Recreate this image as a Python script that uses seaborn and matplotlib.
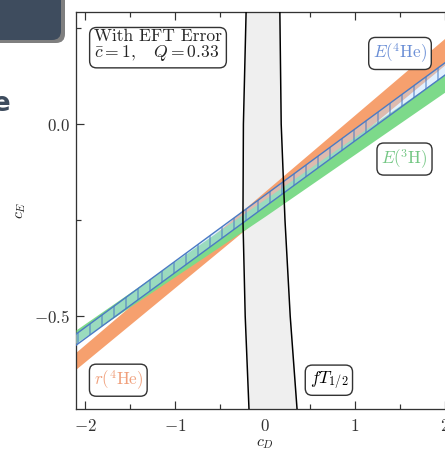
import numpy as np
import matplotlib
matplotlib.use("Agg")
import matplotlib.pyplot as plt
from matplotlib.patches import FancyBboxPatch
from matplotlib.ticker import MultipleLocator
import seaborn as sns

# band edges (c_E) read at c_D = -2.1, 0, 2.1
cd_grid = [-2.1, 0.0, 2.1]
r4he_lo = [-0.638, -0.232, 0.174]
r4he_hi = [-0.594, -0.175, 0.244]
e3h_lo = [-0.570, -0.240, 0.100]
e3h_hi = [-0.536, -0.195, 0.146]
e4he_lo = [-0.576, -0.215, 0.145]
e4he_hi = [-0.547, -0.185, 0.177]

# fT_1/2 band: c_D of left/right edge at given c_E
ft_ce = [0.292, 0.0, -0.25, -0.5, -0.742]
ft_left = [-0.21, -0.24, -0.245, -0.22, -0.178]
ft_right = [0.165, 0.18, 0.222, 0.28, 0.356]

sns.set_style("ticks")
plt.rcParams["font.family"] = "serif"
plt.rcParams["font.serif"] = ["cmr10", "DejaVu Serif"]
plt.rcParams["mathtext.fontset"] = "cm"
plt.rcParams["axes.formatter.use_mathtext"] = True
plt.rcParams["hatch.linewidth"] = 1.0
plt.rcParams["hatch.color"] = "#4b7bc4"

DPI = 72
fig = plt.figure(figsize=(445 / DPI, 451 / DPI), dpi=DPI)
ax = fig.add_axes([76 / 445, 1 - 409 / 451, 378 / 445, 397 / 451])

orange = "#f6a06e"
green = "#7dda8a"
blue = "#4b7bc4"

# fT band
ax.fill_betweenx(ft_ce, ft_left, ft_right, color="#efefef", lw=0, zorder=1)

ax.fill_between(cd_grid, r4he_lo, r4he_hi, color=orange, lw=0, zorder=2)
ax.fill_between(cd_grid, e3h_lo, e3h_hi, color=green, lw=0, zorder=3)
ax.fill_between(cd_grid, e4he_lo, e4he_hi, facecolor=(0.75, 0.87, 1.0, 0.45),
                edgecolor=blue, hatch="|", lw=0, zorder=4)
sns.lineplot(x=cd_grid, y=e4he_lo, color=blue, lw=1.4, ax=ax, zorder=5)
sns.lineplot(x=cd_grid, y=e4he_hi, color=blue, lw=1.4, ax=ax, zorder=5)

sns.lineplot(x=ft_left, y=ft_ce, orient="y", color="black", lw=1.5, ax=ax, zorder=6)
sns.lineplot(x=ft_right, y=ft_ce, orient="y", color="black", lw=1.5, ax=ax, zorder=6)

ax.set_xlim(-2.1, 2.1)
ax.set_ylim(-0.742, 0.292)
ax.xaxis.set_major_locator(MultipleLocator(1))
ax.xaxis.set_minor_locator(MultipleLocator(0.5))
ax.yaxis.set_major_locator(MultipleLocator(0.5))
ax.yaxis.set_minor_locator(MultipleLocator(0.25))
ax.tick_params(which="both", direction="in", top=True, right=True,
               width=1.2, labelsize=17, colors="#333333")
ax.tick_params(axis="x", pad=9)
ax.tick_params(axis="y", pad=6)
ax.tick_params(which="major", length=8)
ax.tick_params(which="minor", length=5)
for s in ax.spines.values():
    s.set_linewidth(1.3)
    s.set_color("#333333")

ax.set_xlabel("$c_D$", fontsize=16, labelpad=3)
ax.set_ylabel("$c_E$", fontsize=16, labelpad=6)

box = dict(boxstyle="round,pad=0.25,rounding_size=0.4", fc="white", ec="#333333", lw=1.4)
ax.text(-1.9, 0.203, "With EFT Error\n$\\bar{c}=1, \\quad Q=0.33$", fontsize=17.5,
        va="center", ha="left", linespacing=0.95, bbox=box, zorder=10)
ax.text(1.5, 0.184, "$E(^4\\mathrm{He})$", fontsize=17, color="#6b8fd6",
        ha="center", va="center", bbox=box, zorder=10)
ax.text(1.55, -0.091, "$E(^3\\mathrm{H})$", fontsize=17, color="#74c784",
        ha="center", va="center", bbox=box, zorder=10)
ax.text(-1.63, -0.667, "$r(^4\\mathrm{He})$", fontsize=17, color="#f0a07c",
        ha="center", va="center", bbox=box, zorder=10)
ax.text(0.71, -0.667, "$fT_{1/2}$", fontsize=17.5, color="black",
        ha="center", va="center", bbox=box, zorder=10)

# slide fragments around the crop
fig.patches.append(FancyBboxPatch((-0.1, 1 - 43 / 451), 0.1 + 65 / 445, 0.2,
                                  boxstyle="round,pad=0,rounding_size=0.02",
                                  transform=fig.transFigure, fc="black", ec="none", alpha=0.5))
fig.patches.append(FancyBboxPatch((-0.1, 1 - 40 / 451), 0.1 + 61 / 445, 0.2,
                                  boxstyle="round,pad=0,rounding_size=0.02",
                                  transform=fig.transFigure, fc="#3e4c5e", ec="none"))
fig.text(-7 / 445, 1 - 104 / 451, "e", fontsize=26, weight="bold", color="#3e4c5e",
         family="DejaVu Sans", va="center", ha="left")

fig.savefig("out.png", dpi=DPI)
